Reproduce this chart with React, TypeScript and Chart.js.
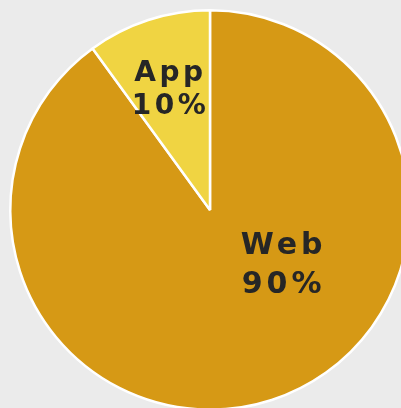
import React, { useEffect, useRef } from "react";
import { Chart, registerables } from "chart.js";

Chart.register(...registerables);

const categories = ["Web", "App"];
const shares = [90, 10];
const colors = ["#D69915", "#F0D442"];
const percentLabels = ["90%", "10%"];

const labelPlugin = {
  id: "sliceLabels",
  afterDatasetsDraw(chart: any) {
    const ctx = chart.ctx;
    const meta = chart.getDatasetMeta(0);
    const cfg = [
      { angleDeg: 38, rFrac: 0.455, size: 30, gap: 39, spacing: 4 },
      { angleDeg: -109, rFrac: 0.635, size: 28, gap: 33, spacing: 3.5 },
    ];
    meta.data.forEach((arc: any, i: number) => {
      const { x, y, outerRadius } = arc.getProps(["x", "y", "outerRadius"], true);
      const c = cfg[i];
      const a = (c.angleDeg * Math.PI) / 180;
      const cx = x + Math.cos(a) * outerRadius * c.rFrac;
      const cy = y + Math.sin(a) * outerRadius * c.rFrac;
      const lines = [categories[i], percentLabels[i]];
      ctx.save();
      ctx.font = `bold ${c.size}px "DejaVu Sans"`;
      ctx.fillStyle = "#262626";
      ctx.textBaseline = "middle";
      ctx.textAlign = "left";
      (ctx as any).letterSpacing = `${c.spacing}px`;
      lines.forEach((t, j) => {
        const w = ctx.measureText(t).width - c.spacing;
        const ly = cy + (j - (lines.length - 1) / 2) * c.gap;
        ctx.fillText(t, cx - w / 2, ly);
      });
      ctx.restore();
    });
  },
};

export default function App() {
  const ref = useRef<HTMLCanvasElement>(null);
  useEffect(() => {
    document.body.style.margin = "0";
    document.body.style.overflow = "hidden";
    const chart = new Chart(ref.current!, {
      type: "pie",
      data: {
        labels: categories,
        datasets: [
          {
            data: shares,
            backgroundColor: colors,
            borderColor: "#ffffff",
            borderWidth: 2.5,
          },
        ],
      },
      options: {
        animation: false,
        responsive: false,
        events: [],
        layout: { padding: 9 },
        plugins: { legend: { display: false }, tooltip: { enabled: false } },
      },
      plugins: [labelPlugin],
    });
    return () => chart.destroy();
  }, []);
  return (
    <div style={{ width: 401, height: 408, overflow: "hidden", background: "#EBEBEB", position: "relative" }}>
      <canvas ref={ref} width={420} height={420} style={{ position: "absolute", left: 0, top: 0, width: 420, height: 420 }} />
    </div>
  );
}
